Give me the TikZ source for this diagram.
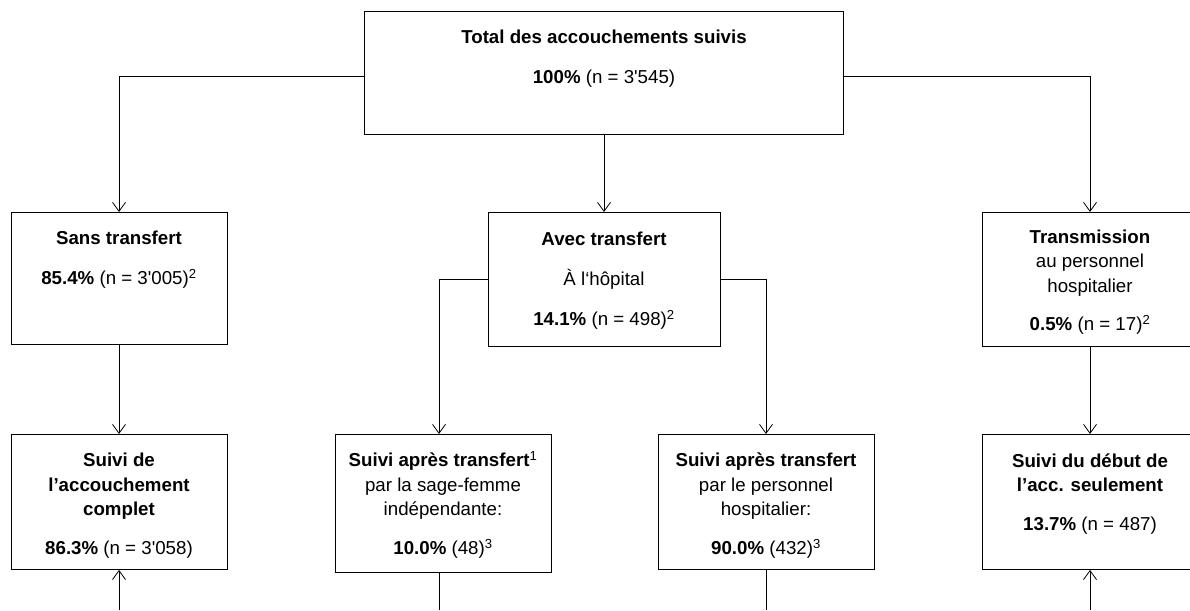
\documentclass[tikz,border=0pt]{standalone}
\usepackage{fontspec}
\setmainfont{Liberation Sans}[Ligatures=TeXOff]
\usetikzlibrary{arrows.meta}

% box: last baseline below the top, then the rest of the height
\tikzset{
  box/.style 2 args={draw, line width=0.9pt, anchor=north, align=center,
    inner sep=0pt, minimum width=216pt, text height=#1, text depth=#2,
    font=\fontsize{18.7}{24.3}\selectfont},
}

\begin{document}
\begin{tikzpicture}[x=1pt, y=-1pt, line width=0.8pt,
    >={Straight Barb[length=9pt,width=13pt]}]
  \useasboundingbox (0,0) rectangle (1190,610);

  % Nodes
  \node[box={72pt}{51pt}, minimum width=479pt] (top) at (604,11)
    {\textbf{Total des accouchements suivis}\\[15.7pt]\textbf{100\%} (n = 3'545)};

  \node[box={72pt}{60pt}] (sans) at (119,212)
    {\textbf{Sans transfert}\\[15.7pt]\textbf{85.4\%} (n = 3'005)\textsuperscript{2}};
  \node[box={113pt}{21pt}, minimum width=232pt] (avec) at (604,212)
    {\textbf{Avec transfert}\\[15.7pt]À l‘hôpital\\[15.7pt]\textbf{14.1\%} (n = 498)\textsuperscript{2}};
  \node[box={118pt}{16pt}] (trans) at (1090,212)
    {\textbf{Transmission}\\au personnel\\hospitalier\\[14pt]\textbf{0.5\%} (n = 17)\textsuperscript{2}};

  \node[box={120pt}{15pt}] (complet) at (119,434)
    {\textbf{Suivi de}\\\textbf{l’accouchement}\\\textbf{complet}\\[14.7pt]\textbf{86.3\%} (n = 3'058)};
  \node[box={120pt}{18pt}] (sage) at (443,434)
    {\textbf{Suivi après transfert}\textsuperscript{1}\\par la sage-femme\\indépendante:\\[14.7pt]\textbf{10.0\%} (48)\textsuperscript{3}};
  \node[box={120pt}{15pt}] (hosp) at (766,434)
    {\textbf{Suivi après transfert}\\par le personnel\\hospitalier:\\[14.7pt]\textbf{90.0\%} (432)\textsuperscript{3}};
  \node[box={96pt}{39pt}] (debut) at (1090,434)
    {\textbf{Suivi du début de}\\\textbf{l’acc. seulement}\\[14.7pt]\textbf{13.7\%} (n = 487)};

  \coordinate (c1) at (119,610);
  \coordinate (c2) at (439,610);
  \coordinate (c3) at (766,610);
  \coordinate (c4) at (1090,610);

  % Arrows
  \draw[->] ([yshift=-3pt]top.west) -| (sans.north);
  \draw[->] (top.south) -- (avec.north);
  \draw[->] ([yshift=-3pt]top.east) -| (trans.north);
  \draw[->] (avec.west) -| ([xshift=-4pt]sage.north);
  \draw[->] (avec.east) -| (hosp.north);
  \draw[->] (sans.south) -- (complet.north);
  \draw[->] (trans.south) -- (debut.north);
  \draw[->] (c1) -- (complet.south);
  \draw ([xshift=-4pt]sage.south) -- (c2);
  \draw (hosp.south) -- (c3);
  \draw[->] (c4) -- (debut.south);
\end{tikzpicture}
\end{document}
